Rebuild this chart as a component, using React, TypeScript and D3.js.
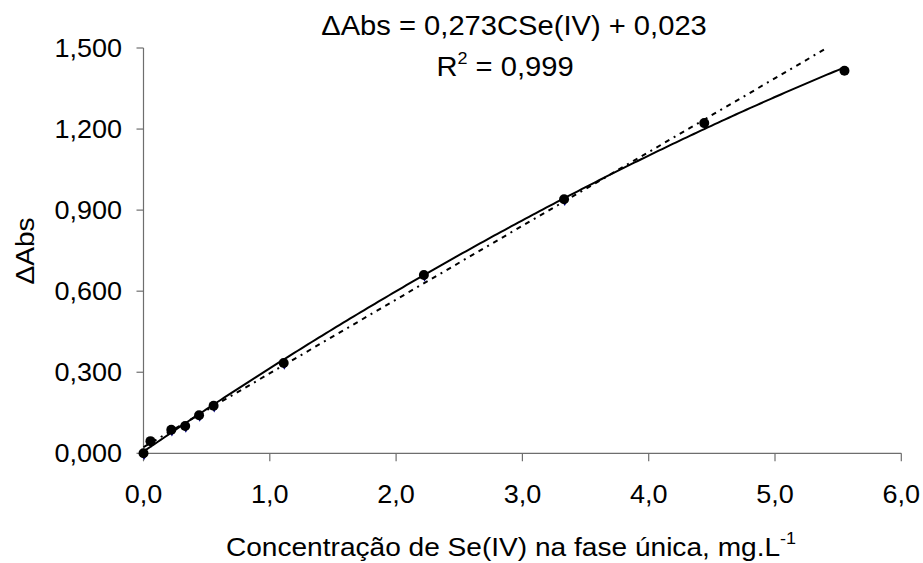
import React from "react";
import * as d3 from "d3";

const W = 923;
const H = 563;

// Measured series (black circles, with 2nd-order polynomial trendline)
const concCircles = [0.0, 0.055, 0.22, 0.33, 0.44, 0.555, 1.11, 2.22, 3.33, 4.44, 5.55];
const absCircles = [0.0, 0.045, 0.087, 0.101, 0.141, 0.176, 0.334, 0.660, 0.940, 1.222, 1.416];

// Series used for the linear trendline (navy diamonds, mostly hidden)
const concDiamonds = [0.005, 0.06, 0.225, 0.335, 0.445, 0.56, 1.115, 2.225, 3.335, 4.445];
const absDiamonds = [-0.004, 0.041, 0.083, 0.097, 0.137, 0.172, 0.330, 0.656, 0.936, 1.218];

// Linear trendline (equation shown on chart)
const trendSlope = 0.273;
const trendIntercept = 0.023;

const xTicks = [0, 1, 2, 3, 4, 5, 6];
const yTicks = [0, 0.3, 0.6, 0.9, 1.2, 1.5];

const FONT = "'Liberation Sans', Arial, sans-serif";
const SX = 1.06;

function T({ x, y, size, anchor = "middle", children, rotate = 0 }: any) {
  return (
    <g transform={`translate(${x},${y}) rotate(${rotate}) scale(${SX},1)`}>
      <text x={0} y={0} fontSize={size} textAnchor={anchor} fontFamily={FONT} fill="#000">
        {children}
      </text>
    </g>
  );
}

// least-squares quadratic fit
function quadFit(xs: number[], ys: number[]) {
  const n = xs.length;
  let s1 = 0, s2 = 0, s3 = 0, s4 = 0, t0 = 0, t1 = 0, t2 = 0;
  for (let i = 0; i < n; i++) {
    const xv = xs[i], yv = ys[i];
    s1 += xv; s2 += xv * xv; s3 += xv ** 3; s4 += xv ** 4;
    t0 += yv; t1 += xv * yv; t2 += xv * xv * yv;
  }
  const M = [
    [n, s1, s2, t0],
    [s1, s2, s3, t1],
    [s2, s3, s4, t2],
  ];
  for (let i = 0; i < 3; i++) {
    for (let j = i + 1; j < 3; j++) {
      const f = M[j][i] / M[i][i];
      for (let k = i; k < 4; k++) M[j][k] -= f * M[i][k];
    }
  }
  const c = [0, 0, 0];
  for (let i = 2; i >= 0; i--) {
    let s = M[i][3];
    for (let k = i + 1; k < 3; k++) s -= M[i][k] * c[k];
    c[i] = s / M[i][i];
  }
  return (xv: number) => c[0] + c[1] * xv + c[2] * xv * xv;
}

export default function App() {
  const x = d3.scaleLinear().domain([0, 6]).range([143.5, 901.3]);
  const y = d3.scaleLinear().domain([0, 1.5]).range([453.3, 48]);

  const fmtX = (v: number) => v.toFixed(1).replace(".", ",");
  const fmtY = (v: number) => v.toFixed(3).replace(".", ",");

  const circlePts: [number, number][] = concCircles.map((c, i) => [c, absCircles[i]]);
  const diamondPts: [number, number][] = concDiamonds.map((c, i) => [c, absDiamonds[i]]);

  const poly = quadFit(concCircles, absCircles);
  const xMax = d3.max(concCircles) as number;
  const polyPts: [number, number][] = d3.range(0, 201).map((i) => {
    const xv = (xMax * i) / 200;
    return [xv, poly(xv)];
  });

  const line = d3
    .line<[number, number]>()
    .x((d) => x(d[0]))
    .y((d) => y(d[1]));

  const xEnd = (1.5 - trendIntercept) / trendSlope;
  const trendPts: [number, number][] = [
    [0, trendIntercept],
    [xEnd, trendIntercept + trendSlope * xEnd],
  ];

  const diamond = d3.symbol().type(d3.symbolDiamond).size(36)();

  const axisColor = "#6e6e6e";

  return (
    <svg
      width={W}
      height={H}
      style={{ position: "absolute", left: 0, top: 0, background: "#fff" }}
    >
      <rect x={0} y={0} width={W} height={H} fill="#fff" />

      {/* Y axis */}
      <line x1={x(0)} x2={x(0)} y1={y(1.5)} y2={y(0)} stroke={axisColor} strokeWidth={1.2} />
      {yTicks.map((t) => (
        <g key={"y" + t}>
          <line x1={x(0) - 7} x2={x(0)} y1={y(t)} y2={y(t)} stroke={axisColor} strokeWidth={1.2} />
          <T x={122} y={y(t) + 9} size={25.5} anchor="end">
            {fmtY(t)}
          </T>
        </g>
      ))}

      {/* X axis */}
      <line x1={x(0)} x2={x(6)} y1={y(0)} y2={y(0)} stroke={axisColor} strokeWidth={1.2} />
      {xTicks.map((t) => (
        <g key={"x" + t}>
          <line x1={x(t)} x2={x(t)} y1={y(0)} y2={y(0) + 8} stroke={axisColor} strokeWidth={1.2} />
          <T x={x(t)} y={503} size={25.5}>
            {fmtX(t)}
          </T>
        </g>
      ))}

      {/* Linear trendline */}
      <path
        d={line(trendPts) || ""}
        fill="none"
        stroke="#000"
        strokeWidth={2}
        strokeDasharray="5,5,5,5,2,5"
      />

      {/* Diamonds */}
      {diamondPts.map((d, i) => (
        <path
          key={"d" + i}
          d={diamond || ""}
          transform={`translate(${x(d[0])},${y(d[1])})`}
          fill="#000080"
        />
      ))}

      {/* Polynomial trendline */}
      <path d={line(polyPts) || ""} fill="none" stroke="#000" strokeWidth={2} />

      {/* Circles */}
      {circlePts.map((d, i) => (
        <circle key={"c" + i} cx={x(d[0])} cy={y(d[1])} r={5} fill="#000" />
      ))}

      {/* Equation */}
      <T x={514} y={35} size={27.5}>
        ΔAbs = 0,273CSe(IV) + 0,023
      </T>
      <g transform={`translate(505,76) scale(${SX},1)`}>
        <text x={0} y={0} fontSize={27.5} textAnchor="middle" fontFamily={FONT}>
          R<tspan fontSize={17} dy={-12}>2</tspan>
          <tspan dy={12}> = 0,999</tspan>
        </text>
      </g>

      {/* Axis titles */}
      <g transform={`translate(511,556) scale(${SX},1)`}>
        <text x={0} y={0} fontSize={26.5} textAnchor="middle" fontFamily={FONT}>
          Concentração de Se(IV) na fase única, mg.L
          <tspan fontSize={17} dy={-12}>-1</tspan>
        </text>
      </g>
      <T x={34} y={251} size={26.5} rotate={-90}>
        ΔAbs
      </T>
    </svg>
  );
}
